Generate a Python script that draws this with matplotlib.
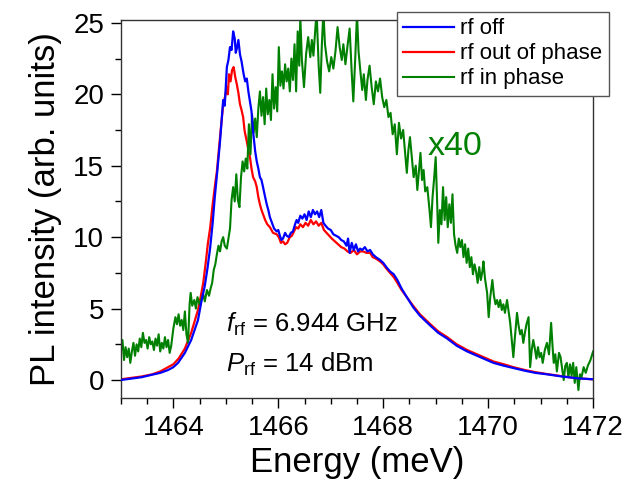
import matplotlib
matplotlib.use('Agg')
import matplotlib.pyplot as plt
from matplotlib.ticker import MultipleLocator

plt.rcParams['font.family'] = ['Liberation Sans', 'DejaVu Sans']
plt.rcParams['mathtext.fontset'] = 'custom'
plt.rcParams['mathtext.rm'] = 'Liberation Sans'
plt.rcParams['mathtext.it'] = 'Liberation Sans:italic'

# rf off
off_e = [1463.0, 1463.2, 1463.4, 1463.57, 1463.75, 1463.9, 1464.0, 1464.09, 1464.22, 1464.34,
         1464.47, 1464.53, 1464.6, 1464.65, 1464.7, 1464.75, 1464.79, 1464.84, 1464.89, 1464.95,
         1464.98, 1465.02, 1465.05, 1465.08, 1465.11, 1465.14, 1465.17, 1465.19, 1465.21, 1465.24,
         1465.27, 1465.3, 1465.34, 1465.37, 1465.4, 1465.43, 1465.46, 1465.49, 1465.52, 1465.56,
         1465.59, 1465.62, 1465.65, 1465.68, 1465.71, 1465.75, 1465.78, 1465.81, 1465.84, 1465.88,
         1465.92, 1465.97, 1466.0, 1466.03, 1466.06, 1466.09, 1466.13, 1466.16, 1466.2, 1466.24,
         1466.28, 1466.32, 1466.35, 1466.38, 1466.42, 1466.46, 1466.5, 1466.54, 1466.58, 1466.62,
         1466.66, 1466.7, 1466.74, 1466.78, 1466.82, 1466.86, 1466.9, 1466.95, 1467.0, 1467.05,
         1467.1, 1467.15, 1467.2, 1467.25, 1467.3, 1467.33, 1467.36, 1467.4, 1467.44, 1467.48,
         1467.52, 1467.56, 1467.6, 1467.65, 1467.7, 1467.75, 1467.8, 1467.86, 1467.94, 1468.0,
         1468.06, 1468.13, 1468.2, 1468.27, 1468.35, 1468.45, 1468.57, 1468.7, 1468.9, 1469.05,
         1469.22, 1469.4, 1469.6, 1469.85, 1470.1, 1470.3, 1470.48, 1470.7, 1470.9, 1471.12,
         1471.4, 1471.7, 1472.0]
off_i = [0.0, 0.1, 0.2, 0.35, 0.5, 0.7, 0.9, 1.2, 1.9, 2.8,
         4.2, 5.4, 6.6, 7.8, 9.2, 11.0, 12.8, 14.7, 16.7, 19.6,
         19.2, 21.9, 22.4, 23.3, 23.1, 24.4, 23.9, 22.9, 23.2, 23.8,
         22.8, 22.3, 21.4, 20.9, 21.1, 20.2, 19.5, 18.8, 17.4, 16.0,
         15.3, 14.8, 14.2, 14.0, 13.5, 12.8, 12.3, 11.9, 11.4, 11.0,
         10.6, 10.4, 10.5, 10.1, 9.8, 9.9, 10.3, 10.1, 10.0, 10.3,
         10.4, 10.9, 11.2, 11.0, 11.5, 11.3, 11.6, 11.2, 11.8, 11.4,
         11.9, 11.6, 11.8, 11.4, 11.9, 11.0, 10.8, 10.6, 10.5, 10.2,
         10.1, 10.0, 9.8, 9.7, 9.4, 9.9, 8.9, 9.6, 9.1, 9.5,
         9.0, 9.2, 9.1, 9.3, 9.0, 9.1, 8.8, 8.6, 8.4, 8.2,
         7.9, 7.6, 7.4, 7.0, 6.4, 5.8, 5.1, 4.5, 3.8, 3.3,
         2.9, 2.4, 2.0, 1.6, 1.2, 1.0, 0.84, 0.65, 0.5, 0.4,
         0.25, 0.12, 0.05]

# rf out of phase
out_e = [1463.0, 1463.2, 1463.4, 1463.6, 1463.75, 1463.9, 1464.0, 1464.1, 1464.22, 1464.34,
         1464.47, 1464.52, 1464.57, 1464.62, 1464.66, 1464.7, 1464.75, 1464.8, 1464.83, 1464.89,
         1464.95, 1464.99, 1465.02, 1465.04, 1465.06, 1465.09, 1465.12, 1465.15, 1465.18, 1465.21,
         1465.24, 1465.27, 1465.3, 1465.33, 1465.36, 1465.4, 1465.43, 1465.46, 1465.49, 1465.52,
         1465.56, 1465.59, 1465.62, 1465.65, 1465.68, 1465.71, 1465.75, 1465.79, 1465.84, 1465.9,
         1465.97, 1466.01, 1466.05, 1466.09, 1466.13, 1466.17, 1466.22, 1466.26, 1466.3, 1466.34,
         1466.38, 1466.42, 1466.47, 1466.52, 1466.57, 1466.62, 1466.67, 1466.72, 1466.77, 1466.82,
         1466.87, 1466.92, 1466.97, 1467.02, 1467.08, 1467.14, 1467.2, 1467.26, 1467.32, 1467.38,
         1467.44, 1467.5, 1467.56, 1467.62, 1467.68, 1467.75, 1467.8, 1467.86, 1467.94, 1468.0,
         1468.06, 1468.13, 1468.2, 1468.27, 1468.35, 1468.45, 1468.57, 1468.7, 1468.9, 1469.05,
         1469.22, 1469.4, 1469.6, 1469.85, 1470.1, 1470.3, 1470.48, 1470.7, 1470.9, 1471.12,
         1471.4, 1471.7, 1472.0]
out_i = [0.05, 0.15, 0.25, 0.4, 0.6, 0.9, 1.1, 1.5, 2.2, 3.3,
         4.9, 5.8, 6.8, 8.3, 9.6, 10.6, 12.3, 13.8, 14.6, 17.0,
         19.3, 19.9, 20.5, 20.0, 21.4, 20.9, 21.7, 21.9, 21.2, 20.7,
         20.1, 19.3, 18.9, 18.4, 17.4, 16.7, 16.1, 15.6, 14.8, 14.2,
         13.9, 13.5, 12.8, 12.3, 11.9, 11.6, 11.2, 10.9, 10.7, 10.3,
         10.2, 10.0, 9.6, 9.7, 9.5, 9.6, 10.0, 10.1, 10.4, 10.7,
         10.6, 10.9, 10.7, 11.0, 10.8, 11.2, 10.9, 11.1, 10.8, 11.0,
         10.5, 10.3, 10.1, 9.9, 9.7, 9.5, 9.3, 9.2, 9.0, 8.9,
         9.1, 8.8, 9.0, 9.0, 8.9, 8.9, 8.6, 8.5, 8.3, 8.1,
         7.8, 7.5, 7.2, 6.8, 6.3, 5.8, 5.2, 4.6, 3.9, 3.4,
         3.0, 2.5, 2.1, 1.7, 1.3, 1.1, 0.9, 0.7, 0.55, 0.42,
         0.27, 0.12, 0.05]

# rf in phase (x40)
in_e = [1463.00, 1463.03, 1463.06, 1463.09, 1463.12, 1463.15, 1463.18, 1463.21, 1463.24, 1463.27,
        1463.30, 1463.33, 1463.36, 1463.39, 1463.42, 1463.45, 1463.48, 1463.51, 1463.54, 1463.57,
        1463.60, 1463.63, 1463.66, 1463.69, 1463.72, 1463.75, 1463.78, 1463.81, 1463.84, 1463.87,
        1463.90, 1463.93, 1463.96, 1464.00, 1464.04, 1464.07, 1464.10, 1464.13, 1464.16, 1464.19,
        1464.22, 1464.25, 1464.28, 1464.31, 1464.33, 1464.36, 1464.40, 1464.43, 1464.46, 1464.50,
        1464.53, 1464.57, 1464.60, 1464.64, 1464.68, 1464.71, 1464.74, 1464.77, 1464.80, 1464.83,
        1464.86, 1464.89, 1464.92, 1464.95, 1464.98, 1465.02, 1465.05, 1465.08, 1465.11, 1465.14,
        1465.17, 1465.20, 1465.23, 1465.26, 1465.29, 1465.32, 1465.35, 1465.38, 1465.41, 1465.44,
        1465.47, 1465.50, 1465.53, 1465.56, 1465.59, 1465.62, 1465.65, 1465.68, 1465.71, 1465.74,
        1465.77, 1465.80, 1465.83, 1465.86, 1465.89, 1465.92, 1465.95, 1465.98, 1466.01, 1466.04,
        1466.07, 1466.10, 1466.13, 1466.16, 1466.19, 1466.22, 1466.25, 1466.28, 1466.31, 1466.34,
        1466.37, 1466.40, 1466.42, 1466.45, 1466.49, 1466.53, 1466.57, 1466.61, 1466.64, 1466.67,
        1466.70, 1466.73, 1466.77, 1466.80, 1466.83, 1466.86, 1466.89, 1466.93, 1466.97, 1467.01,
        1467.05, 1467.09, 1467.13, 1467.17, 1467.21, 1467.24, 1467.28, 1467.32, 1467.36, 1467.40,
        1467.43, 1467.47, 1467.50, 1467.53, 1467.56, 1467.60, 1467.63, 1467.67, 1467.70, 1467.74,
        1467.78, 1467.82, 1467.86, 1467.90, 1467.94, 1467.98, 1468.02, 1468.06, 1468.10, 1468.14,
        1468.18, 1468.22, 1468.26, 1468.30, 1468.34, 1468.38, 1468.42, 1468.45, 1468.48, 1468.51,
        1468.55, 1468.58, 1468.62, 1468.65, 1468.68, 1468.71, 1468.74, 1468.77, 1468.80, 1468.84,
        1468.88, 1468.91, 1468.94, 1468.97, 1469.00, 1469.03, 1469.05, 1469.08, 1469.11, 1469.14,
        1469.17, 1469.20, 1469.23, 1469.26, 1469.29, 1469.32, 1469.35, 1469.38, 1469.41, 1469.44,
        1469.47, 1469.50, 1469.53, 1469.56, 1469.59, 1469.62, 1469.65, 1469.68, 1469.71, 1469.74,
        1469.77, 1469.80, 1469.83, 1469.86, 1469.89, 1469.91, 1469.94, 1469.98, 1470.01, 1470.04,
        1470.08, 1470.11, 1470.14, 1470.17, 1470.20, 1470.23, 1470.26, 1470.29, 1470.32, 1470.36,
        1470.39, 1470.42, 1470.45, 1470.48, 1470.51, 1470.55, 1470.58, 1470.61, 1470.64, 1470.67,
        1470.70, 1470.73, 1470.77, 1470.80, 1470.83, 1470.86, 1470.89, 1470.92, 1470.95, 1470.98,
        1471.01, 1471.04, 1471.08, 1471.12, 1471.16, 1471.20, 1471.23, 1471.25, 1471.28, 1471.31,
        1471.35, 1471.38, 1471.41, 1471.44, 1471.47, 1471.50, 1471.53, 1471.56, 1471.59, 1471.62,
        1471.65, 1471.68, 1471.72, 1471.75, 1471.78, 1471.82, 1471.86, 1471.90, 1471.95, 1472.00]
in_i = [2.0, 2.8, 1.4, 2.3, 1.6, 2.2, 1.2, 2.0, 2.6, 1.7,
        2.5, 2.0, 2.9, 2.3, 3.3, 2.6, 2.8, 2.2, 3.0, 2.5,
        2.7, 2.1, 2.9, 2.4, 3.2, 2.0, 2.6, 2.2, 3.0, 2.3,
        2.8, 1.9, 2.4, 3.6, 4.4, 3.9, 4.6, 3.8, 4.2, 3.5,
        4.8, 3.2, 2.6, 5.3, 6.1, 5.2, 5.6, 5.0, 5.8, 5.3,
        5.6, 6.0, 5.5, 6.3, 5.9, 6.4, 6.8, 7.7, 8.1, 8.8,
        9.4, 9.0, 9.7, 10.0, 9.4, 9.2, 9.9, 10.6, 12.6, 13.5,
        12.5, 14.4, 12.6, 12.1, 14.2, 15.3, 14.6, 15.5, 14.8, 17.9,
        15.8, 18.6, 17.3, 18.3, 17.0, 19.0, 20.2, 18.5, 19.8, 17.9,
        20.4, 18.6, 19.6, 18.2, 21.4, 19.0, 20.5, 18.8, 23.3, 20.6,
        21.6, 20.4, 22.1, 20.9, 21.8, 20.2, 22.5, 21.0, 23.5, 20.2,
        24.4, 22.0, 25.4, 22.4, 20.5, 22.8, 24.0, 22.6, 23.8, 22.7,
        24.2, 25.8, 22.0, 20.1, 23.4, 25.8, 23.5, 22.3, 21.6, 22.6,
        21.8, 23.0, 24.7, 23.3, 22.4, 23.5, 22.1, 23.4, 24.6, 21.5,
        19.5, 22.8, 25.6, 23.0, 21.8, 20.3, 21.4, 19.6, 21.0, 22.0,
        20.5, 19.3, 20.9, 20.2, 21.1, 19.8, 19.1, 19.6, 18.4, 18.7,
        17.2, 17.9, 15.8, 18.0, 16.9, 17.5, 15.8, 14.5, 16.1, 17.0,
        15.4, 14.2, 15.0, 13.3, 14.6, 15.9, 14.0, 14.7, 13.2, 13.5,
        12.0, 10.7, 12.8, 14.1, 15.6, 12.2, 9.6, 11.9, 10.9, 13.5,
        11.2, 12.8, 10.7, 12.3, 11.0, 13.0, 10.2, 9.4, 8.9, 9.9,
        9.3, 9.8, 8.6, 9.5, 8.2, 9.2, 7.9, 8.6, 7.4, 8.1,
        7.6, 6.8, 7.9, 7.0, 7.6, 8.3, 7.1, 6.1, 4.4, 5.8,
        7.0, 5.9, 5.3, 5.6, 5.1, 5.6, 4.9, 5.3, 4.7, 5.6,
        4.8, 4.0, 2.8, 1.6, 3.0, 4.7, 3.8, 3.2, 3.5, 2.6,
        3.3, 3.9, 4.4, 0.9, 2.1, 2.8, 2.2, 1.5, 2.3, 1.6,
        1.9, 1.2, 2.1, 2.6, 1.8, 4.0, 2.2, 1.2, 1.8, 0.6,
        1.9, 1.6, 0.8, 0.0, 1.0, 1.2, 0.2, 1.1, 0.3, 1.2,
        -0.2, 0.9, -0.7, 0.4, 0.2, 0.9, 0.5, 1.0, 1.4, 2.0]

x_ticks = [1464, 1466, 1468, 1470, 1472]
y_ticks = [0, 5, 10, 15, 20, 25]

fig = plt.figure(figsize=(6.23, 4.87), dpi=100)
ax = fig.add_axes([0.194, 0.183, 0.758, 0.776])

l2, = ax.plot(out_e, out_i, color='#ff0000', lw=1.6, label='rf out of phase', zorder=2)
l1, = ax.plot(off_e, off_i, color='#0000ff', lw=1.6, label='rf off', zorder=3)
l3, = ax.plot(in_e, in_i, color='#008000', lw=1.5, label='rf in phase', zorder=2.5)

ax.set_xlim(1463, 1472)
ax.set_ylim(-1.25, 25.2)
ax.set_xticks(x_ticks)
ax.set_yticks(y_ticks)
ax.xaxis.set_minor_locator(MultipleLocator(0.5))
ax.yaxis.set_minor_locator(MultipleLocator(2.5))
ax.tick_params(which='major', direction='out', length=7, width=1, labelsize=20, pad=5)
ax.tick_params(which='minor', direction='out', length=4, width=1)
for s in ax.spines.values():
    s.set_linewidth(1.0)
    s.set_color('#333333')

ax.set_xlabel('Energy (meV)', fontsize=25, labelpad=4)
ax.set_ylabel('PL intensity (arb. units)', fontsize=25, labelpad=8)

ax.text(0.65, 0.643, 'x40', transform=ax.transAxes, fontsize=24.5, color='#008000')
ax.text(0.222, 0.175, r'$f_{\rm rf}$ = 6.944 GHz', transform=ax.transAxes, fontsize=18.5)
ax.text(0.222, 0.069, r'$P_{\rm rf}$ = 14 dBm', transform=ax.transAxes, fontsize=18.5)

leg = fig.legend([l1, l2, l3], ['rf off', 'rf out of phase', 'rf in phase'],
                 loc='upper right', bbox_to_anchor=(0.977, 0.976), fontsize=16,
                 fancybox=False, framealpha=1, edgecolor='#555555',
                 handlelength=2.3, handletextpad=0.25, labelspacing=0.18,
                 borderpad=0.3, borderaxespad=0)
leg.get_frame().set_linewidth(1.0)

fig.savefig('out.png', dpi=100)
